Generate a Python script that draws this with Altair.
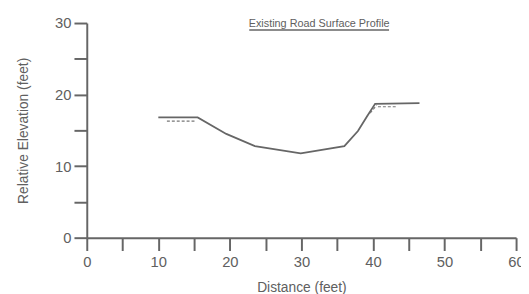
import altair as alt
import pandas as pd

# Main road surface profile
distance = [10.0, 15.5, 19.5, 23.5, 29.9, 36.0, 37.9, 39.2, 40.3, 46.5]
elevation = [16.8, 16.8, 14.5, 12.8, 11.8, 12.8, 14.9, 17.0, 18.7, 18.8]

# Small sketch marks under the shoulders
mark_group = ["L", "L", "R", "R", "S", "S"]
mark_x = [11.2, 15.3, 40.7, 43.4, 39.6, 40.5]
mark_y = [16.3, 16.3, 18.3, 18.3, 17.4, 18.5]

x_ticks = list(range(0, 61, 5))
y_ticks = list(range(0, 31, 5))

title_text = "Existing Road Surface Profile"
x_title = "Distance (feet)"
y_title = "Relative Elevation (feet)"

gray = "#666666"
text_gray = "#606060"
font = "Liberation Sans"

profile = pd.DataFrame({"d": distance, "e": elevation})
marks = pd.DataFrame({"g": mark_group, "d": mark_x, "e": mark_y})

x_axis = alt.Axis(
    values=x_ticks,
    labelExpr="datum.value % 10 == 0 ? datum.label : ''",
    title=x_title,
    grid=False,
    tickSize=13,
    tickWidth=2,
    tickColor=gray,
    domainColor=gray,
    domainWidth=2,
    labelFontSize=15,
    labelColor=text_gray,
    labelFont=font,
    labelPadding=4,
    labelOverlap=False,
    titleFontSize=14,
    titleFontWeight="normal",
    titleColor=text_gray,
    titleFont=font,
    titlePadding=12,
    labelFlush=False,
)
y_axis = alt.Axis(
    values=y_ticks,
    labelExpr="datum.value % 10 == 0 ? datum.label : ''",
    title=y_title,
    grid=False,
    tickSize=13,
    tickWidth=2,
    tickColor=gray,
    domainColor=gray,
    domainWidth=2,
    labelFontSize=15,
    labelColor=text_gray,
    labelFont=font,
    labelPadding=3,
    labelOverlap=False,
    titleFontSize=14,
    titleFontWeight="normal",
    titleColor=text_gray,
    titleFont=font,
    titlePadding=24,
    labelFlush=False,
)

x_scale = alt.Scale(domain=[0, 60], nice=False, zero=False)
y_scale = alt.Scale(domain=[0, 30], nice=False, zero=False)

line = alt.Chart(profile).mark_line(color=gray, strokeWidth=1.8).encode(
    x=alt.X("d:Q", scale=x_scale, axis=x_axis),
    y=alt.Y("e:Q", scale=y_scale, axis=y_axis),
    order="d:Q",
)

sketch = alt.Chart(marks).mark_line(color="#777777", strokeWidth=1.2, strokeDash=[3, 2]).encode(
    x=alt.X("d:Q", scale=x_scale, axis=x_axis),
    y=alt.Y("e:Q", scale=y_scale, axis=y_axis),
    detail="g:N",
)

title = alt.Chart(pd.DataFrame({"t": [title_text]})).mark_text(
    fontSize=11, font=font, color=text_gray, align="center", baseline="alphabetic"
).encode(text="t:N", x=alt.value(236), y=alt.value(4))

underline = alt.Chart(pd.DataFrame({"t": [0]})).mark_rule(color=gray, strokeWidth=1.5).encode(
    x=alt.value(165), x2=alt.value(307), y=alt.value(7)
)

chart = (
    alt.layer(line, sketch, title, underline)
    .properties(
        width=436,
        height=218,
        autosize=alt.AutoSizeParams(type="none"),
        padding={"left": 80, "top": 13, "right": 5, "bottom": 60},
    )
    .configure_view(stroke=None)
)

chart.save("out.html", embed_options={"renderer": "svg", "actions": False})
